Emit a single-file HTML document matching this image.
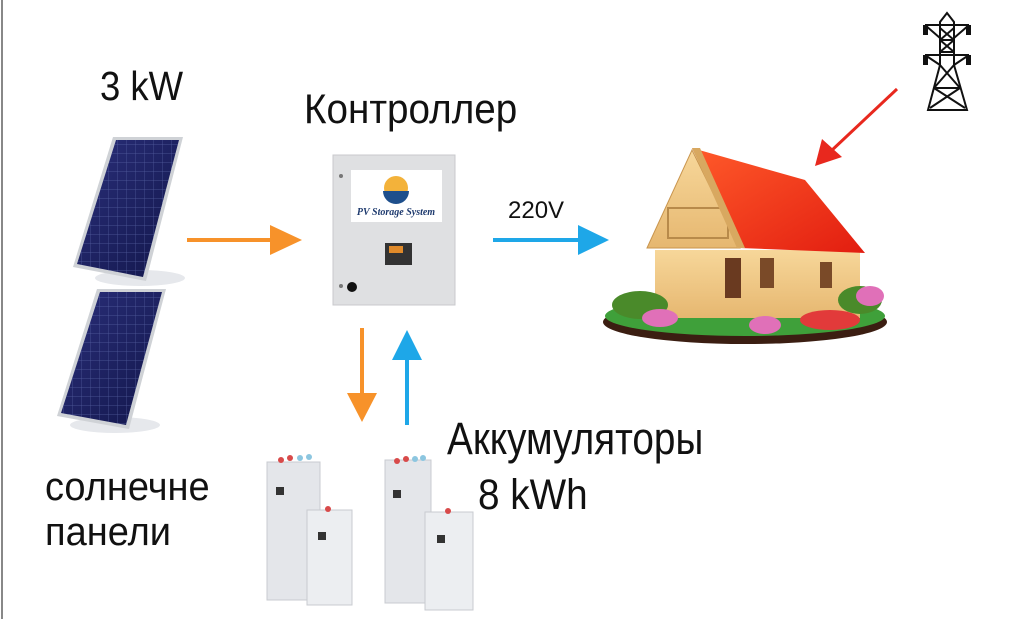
<!DOCTYPE html>
<html><head><meta charset="utf-8"><style>
html,body{margin:0;padding:0;background:#fff;}
body{width:1024px;height:619px;overflow:hidden;position:relative;font-family:"Liberation Sans","DejaVu Sans",sans-serif;}
.t{position:absolute;color:#111;white-space:nowrap;line-height:1;transform-origin:0 0;}
</style></head><body>
<svg width="1024" height="619" style="position:absolute;left:0;top:0">
<defs>
<linearGradient id="pv" x1="0" y1="0" x2="1" y2="1"><stop offset="0" stop-color="#2a2f7a"/><stop offset="1" stop-color="#12164a"/></linearGradient>
<pattern id="grid" width="9" height="9" patternUnits="userSpaceOnUse"><path d="M0 0H9M0 0V9" stroke="#6a78b8" stroke-width="0.7" fill="none"/></pattern>
<linearGradient id="wood" x1="0" y1="0" x2="0" y2="1"><stop offset="0" stop-color="#f7d79a"/><stop offset="1" stop-color="#e6b770"/></linearGradient>
<linearGradient id="roof" x1="0" y1="0" x2="1" y2="1"><stop offset="0" stop-color="#ff5a2a"/><stop offset="1" stop-color="#e21d10"/></linearGradient>
</defs>
<line x1="2" y1="0" x2="2" y2="619" stroke="#888" stroke-width="2"/>
<!-- panels -->
<ellipse cx="140" cy="278" rx="45" ry="8" fill="#e6e8ec"/>
<polygon points="113,137 183,137 146,281 73,267" fill="#cfd2d6"/>
<polygon points="116,140 179,140 143,277 77,264" fill="url(#pv)"/>
<polygon points="116,140 179,140 143,277 77,264" fill="url(#grid)" opacity="0.7"/>
<ellipse cx="115" cy="425" rx="45" ry="8" fill="#e6e8ec"/>
<polygon points="97,289 166,289 129,429 57,416" fill="#cfd2d6"/>
<polygon points="100,292 162,292 126,425 61,413" fill="url(#pv)"/>
<polygon points="100,292 162,292 126,425 61,413" fill="url(#grid)" opacity="0.7"/>
<!-- controller -->
<rect x="333" y="155" width="122" height="150" fill="#dfe0e2" stroke="#c8c9cc"/>
<rect x="351" y="170" width="91" height="52" fill="#fff"/>
<circle cx="396" cy="188" r="12" fill="#f3b23a"/>
<path d="M383 191 A13 13 0 0 0 409 191 Z" fill="#1e4f8c"/>
<text x="396" y="215" font-family="Liberation Serif,serif" font-style="italic" font-weight="bold" font-size="10" fill="#1e3a6e" text-anchor="middle">PV Storage System</text>
<rect x="385" y="243" width="27" height="22" fill="#333"/>
<rect x="389" y="246" width="14" height="7" fill="#e08a2a"/>
<circle cx="341" cy="176" r="2" fill="#777"/><circle cx="341" cy="286" r="2" fill="#777"/>
<circle cx="352" cy="287" r="5" fill="#111"/>
<!-- arrows -->
<line x1="187" y1="240" x2="272" y2="240" stroke="#f7922a" stroke-width="4"/>
<polygon points="270,225 302,240 270,255" fill="#f7922a"/>
<line x1="493" y1="240" x2="580" y2="240" stroke="#1ea7e8" stroke-width="4"/>
<polygon points="578,225 609,240 578,255" fill="#1ea7e8"/>
<line x1="362" y1="328" x2="362" y2="395" stroke="#f7922a" stroke-width="4"/>
<polygon points="347,393 362,422 377,393" fill="#f7922a"/>
<line x1="407" y1="425" x2="407" y2="358" stroke="#1ea7e8" stroke-width="4"/>
<polygon points="392,360 407,330 422,360" fill="#1ea7e8"/>
<line x1="897" y1="89" x2="830" y2="152" stroke="#e8281e" stroke-width="3"/>
<polygon points="815,166 822,139 842,157" fill="#e8281e"/>
<!-- pylon -->
<g stroke="#111" stroke-width="2" fill="none" stroke-linejoin="miter">
<path d="M947 13 L940 22 L940 65 L928 110 H967 L954 65 L954 22 Z"/>
<path d="M940 28 L954 40 M954 28 L940 40 M940 40 L954 52 M954 40 L940 52 M940 65 L960 88 M954 65 L934 88 M934 88 L965 108 M960 88 L930 108"/>
<path d="M940 40 H954 M940 52 H954 M934 88 H960"/>
<path d="M925 25 H969 M925 25 L940 38 M969 25 L954 38 M925 55 H969 M925 55 L940 65 M969 55 L954 65"/>
</g>
<g fill="#111"><rect x="923" y="25" width="5" height="10"/><rect x="966" y="25" width="5" height="10"/><rect x="923" y="55" width="5" height="10"/><rect x="966" y="55" width="5" height="10"/></g>
<!-- house -->
<ellipse cx="745" cy="322" rx="142" ry="22" fill="#3b1e12"/>
<ellipse cx="745" cy="316" rx="140" ry="20" fill="#3fa03a"/>
<rect x="655" y="250" width="205" height="68" fill="url(#wood)"/>
<polygon points="647,248 692,150 740,248" fill="url(#wood)" stroke="#c9954e"/>
<rect x="668" y="208" width="60" height="30" fill="none" stroke="#b88a4a" stroke-width="2"/>
<polygon points="692,148 805,180 865,253 740,248" fill="url(#roof)"/>
<polygon points="692,148 700,148 745,248 737,248" fill="#d8a860"/>
<rect x="725" y="258" width="16" height="40" fill="#6a3a20"/>
<rect x="760" y="258" width="14" height="30" fill="#7a4a28"/>
<rect x="820" y="262" width="12" height="26" fill="#7a4a28"/>
<g fill="#4a8a2a"><ellipse cx="640" cy="305" rx="28" ry="14"/><ellipse cx="860" cy="300" rx="22" ry="14"/></g>
<g fill="#e070b8"><ellipse cx="660" cy="318" rx="18" ry="9"/><ellipse cx="765" cy="325" rx="16" ry="9"/><ellipse cx="870" cy="296" rx="14" ry="10"/></g>
<ellipse cx="830" cy="320" rx="30" ry="10" fill="#e23a3a"/>
<!-- batteries -->
<g stroke="#c8cbd0">
<rect x="267" y="462" width="53" height="138" fill="#e4e6ea"/>
<rect x="385" y="460" width="46" height="143" fill="#e4e6ea"/>
<rect x="307" y="510" width="45" height="95" fill="#eceef1"/>
<rect x="425" y="512" width="48" height="98" fill="#eceef1"/>
</g>
<g fill="#d84a4a"><circle cx="281" cy="460" r="3"/><circle cx="290" cy="458" r="3"/><circle cx="397" cy="461" r="3"/><circle cx="406" cy="459" r="3"/><circle cx="328" cy="509" r="3"/><circle cx="448" cy="511" r="3"/></g>
<g fill="#8cc6e0"><circle cx="300" cy="458" r="3"/><circle cx="309" cy="457" r="3"/><circle cx="415" cy="459" r="3"/><circle cx="423" cy="458" r="3"/></g>
<g fill="#333"><rect x="276" y="487" width="8" height="8"/><rect x="393" y="490" width="8" height="8"/><rect x="318" y="532" width="8" height="8"/><rect x="437" y="535" width="8" height="8"/></g>
</svg>
<div class="t" style="left:100px;top:66px;font-size:41px;transform:scaleX(0.89);">3 kW</div>
<div class="t" style="left:304px;top:88px;font-size:42px;transform:scaleX(0.92);">Контроллер</div>
<div class="t" style="left:508px;top:199px;font-size:24px;">220V</div>
<div class="t" style="left:447px;top:416px;font-size:45px;transform:scaleX(0.86);">Аккумуляторы</div>
<div class="t" style="left:478px;top:474px;font-size:43px;transform:scaleX(0.9);">8 kWh</div>
<div class="t" style="left:45px;top:467px;font-size:40px;transform:scaleX(0.95);">солнечне</div>
<div class="t" style="left:45px;top:512px;font-size:40px;transform:scaleX(0.95);">панели</div>
</body></html>
